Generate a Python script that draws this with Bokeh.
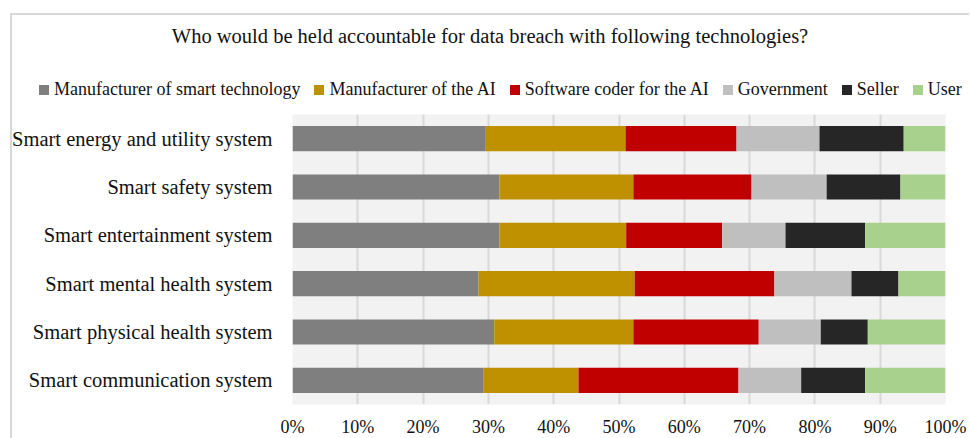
from bokeh.plotting import figure
from bokeh.models import FactorRange, Range1d, FixedTicker, PrintfTickFormatter, ColumnDataSource, Div
from bokeh.layouts import column
from bokeh.embed import file_html
from bokeh.resources import INLINE

title_text = "Who would be held accountable for data breach with following technologies?"
categories = [
    "Smart energy and utility system",
    "Smart safety system",
    "Smart entertainment system",
    "Smart mental health system",
    "Smart physical health system",
    "Smart communication system",
]
series = [
    "Manufacturer of smart technology",
    "Manufacturer of the AI",
    "Software coder for the AI",
    "Government",
    "Seller",
    "User",
]
colors = ["#7f7f7f", "#bf9000", "#c00000", "#bfbfbf", "#262626", "#a9d18e"]

manufacturer_smart = [29.6, 31.7, 31.7, 28.5, 30.9, 29.2]
manufacturer_ai = [21.4, 20.5, 19.4, 23.9, 21.3, 14.6]
software_coder = [17.0, 18.1, 14.7, 21.4, 19.2, 24.5]
government = [12.7, 11.5, 9.7, 11.8, 9.5, 9.6]
seller = [12.9, 11.3, 12.2, 7.2, 7.2, 9.8]
user = [6.4, 6.9, 12.3, 7.2, 11.9, 12.3]
x_ticks = [0, 10, 20, 30, 40, 50, 60, 70, 80, 90, 100]

values = [manufacturer_smart, manufacturer_ai, software_coder, government, seller, user]
data = {"cat": categories}
for s, v in zip(series, values):
    data[s] = v
source = ColumnDataSource(data)

FONT = "Liberation Serif"
TXT = "#111111"
W = 969
HEAD_H = 105

# ---- header: title + legend (HTML text) ----
legend_html = "".join(
    f'<span style="display:inline-block;width:10px;height:10px;background:{c};'
    f'margin-right:5px;vertical-align:0px"></span>'
    f'<span style="margin-right:14px">{s}</span>'
    for s, c in zip(series, colors)
)
head_html = (
    f'<div style="font-family:\'{FONT}\';color:{TXT};white-space:nowrap;">'
    f'<div style="margin-left:40px;width:900px;text-align:center;font-size:20.5px;line-height:24px;'
    f'padding-top:24px">{title_text}</div>'
    f'<div style="margin-top:31px;padding-left:39px;font-size:18px;line-height:20px">'
    f'{legend_html}</div></div>'
)
head = Div(text=head_html, width=W, height=HEAD_H, margin=0)

# ---- main chart ----
p = figure(
    y_range=FactorRange(factors=list(reversed(categories)), range_padding=0),
    x_range=Range1d(0, 100),
    width=W, height=332,
    frame_width=653, frame_height=290,
    min_border_left=292, min_border_right=24, min_border_top=9, min_border_bottom=33,
    output_backend="svg", toolbar_location=None,
)

p.hbar_stack(series, y="cat", height=0.52, color=colors, source=source, line_width=0)

p.background_fill_color = "#f2f2f2"
p.border_fill_color = None
p.outline_line_color = None

p.xaxis.ticker = FixedTicker(ticks=x_ticks)
p.xaxis.formatter = PrintfTickFormatter(format="%d%%")
p.xaxis.axis_line_color = None
p.xaxis.major_tick_line_color = None
p.xaxis.minor_tick_line_color = None
p.xaxis.major_tick_out = 0
p.xaxis.major_label_text_font = FONT
p.xaxis.major_label_text_font_size = "18px"
p.xaxis.major_label_text_color = TXT
p.xaxis.major_label_standoff = 12

p.yaxis.axis_line_color = None
p.yaxis.major_tick_line_color = None
p.yaxis.major_tick_out = 0
p.yaxis.major_label_text_font = FONT
p.yaxis.major_label_text_font_size = "20.5px"
p.yaxis.major_label_text_color = TXT
p.yaxis.major_label_standoff = 20

p.xgrid.grid_line_color = "#d9d9d9"
p.xgrid.grid_line_width = 2
p.xgrid.ticker = FixedTicker(ticks=x_ticks)
p.ygrid.grid_line_color = None

layout = column(head, p, spacing=0)
layout.styles = {
    "background": "linear-gradient(#d9d9d9,#d9d9d9) 10px 13px / 100% 2px no-repeat, "
                  "linear-gradient(#d9d9d9,#d9d9d9) 10px 13px / 2px 100% no-repeat, white"
}

open("out.html", "w").write(file_html(layout, INLINE))
